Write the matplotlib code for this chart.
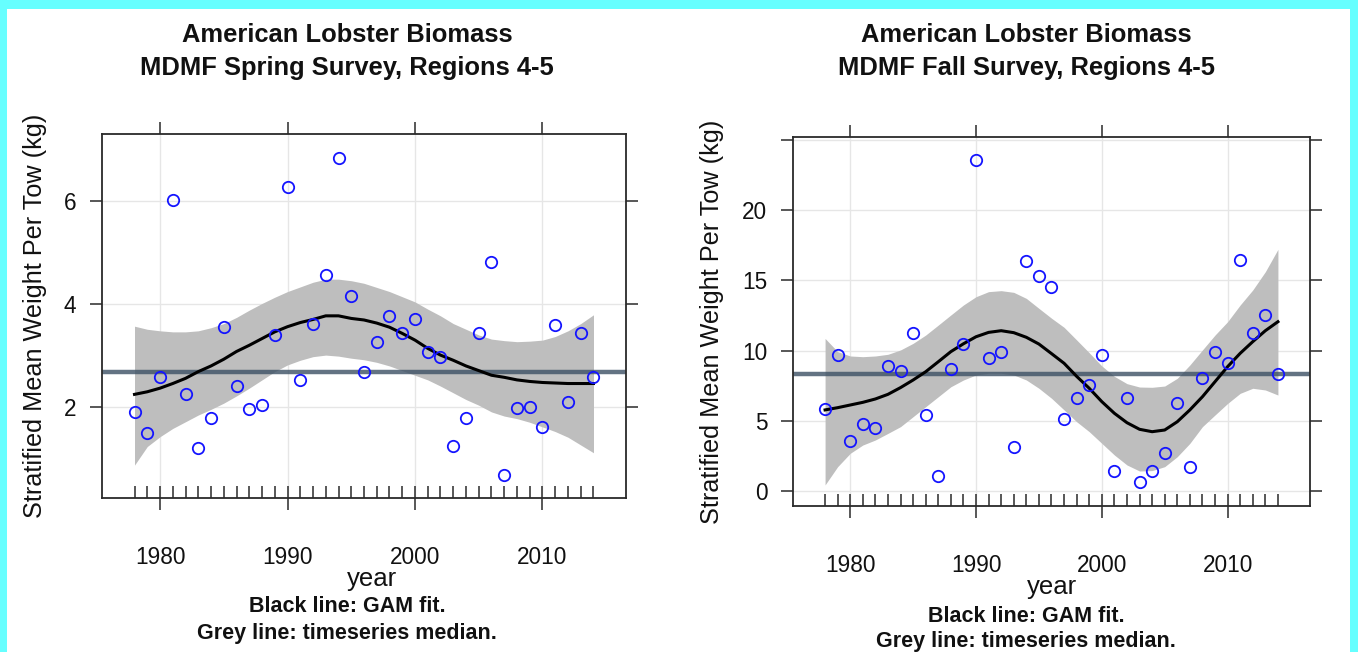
import numpy as np
import matplotlib
matplotlib.use("Agg")
import matplotlib.pyplot as plt
from matplotlib.patches import Rectangle

plt.rcParams['font.family'] = ['Liberation Sans', 'DejaVu Sans']

# ---- data -------------------------------------------------------------
years = np.arange(1978, 2015)

spring_biomass = [1.91, 1.50, 2.58, 6.01, 2.25, 1.22, 1.80, 3.55, 2.41, 1.97,
                  2.04, 3.40, 6.26, 2.53, 3.62, 4.56, 6.83, 4.16, 2.68, 3.26,
                  3.77, 3.44, 3.71, 3.07, 2.98, 1.26, 1.80, 3.44, 4.82, 0.68,
                  1.99, 2.01, 1.62, 3.59, 2.10, 3.44, 2.59]
spring_fit = [2.25, 2.30, 2.37, 2.46, 2.56, 2.69, 2.80, 2.93, 3.08, 3.20,
              3.33, 3.46, 3.56, 3.64, 3.70, 3.77, 3.77, 3.72, 3.69, 3.63,
              3.55, 3.43, 3.30, 3.14, 3.01, 2.91, 2.80, 2.71, 2.62, 2.58,
              2.53, 2.50, 2.48, 2.47, 2.46, 2.46, 2.46]
spring_upper = [3.57, 3.51, 3.48, 3.46, 3.46, 3.48, 3.54, 3.62, 3.74, 3.88,
                4.01, 4.13, 4.24, 4.33, 4.42, 4.48, 4.48, 4.45, 4.40, 4.32,
                4.24, 4.14, 4.04, 3.90, 3.77, 3.62, 3.51, 3.40, 3.32, 3.29,
                3.27, 3.28, 3.30, 3.37, 3.48, 3.62, 3.79]
spring_lower = [0.88, 1.24, 1.43, 1.59, 1.72, 1.85, 1.96, 2.08, 2.22, 2.37,
                2.53, 2.69, 2.82, 2.91, 2.98, 3.01, 2.99, 2.95, 2.92, 2.87,
                2.80, 2.71, 2.62, 2.53, 2.41, 2.28, 2.15, 2.04, 1.91, 1.83,
                1.78, 1.71, 1.62, 1.53, 1.42, 1.27, 1.12]

fall_biomass = [5.81, 9.66, 3.56, 4.79, 4.46, 8.87, 8.56, 11.27, 5.39, 1.07,
                8.66, 10.46, 23.56, 9.47, 9.92, 3.11, 16.37, 15.33, 14.54, 5.15,
                6.64, 7.54, 9.66, 1.42, 6.64, 0.66, 1.42, 2.68, 6.26, 1.73,
                8.07, 9.92, 9.09, 16.44, 11.27, 12.50, 8.30]
fall_fit = [5.77, 5.93, 6.12, 6.31, 6.55, 6.88, 7.36, 7.90, 8.49, 9.20,
            9.92, 10.48, 10.98, 11.29, 11.41, 11.27, 10.94, 10.46, 9.78, 9.09,
            8.16, 7.31, 6.36, 5.53, 4.86, 4.39, 4.22, 4.34, 4.93, 5.77,
            6.71, 7.78, 8.85, 9.80, 10.63, 11.41, 12.05]
fall_upper = [10.86, 9.92, 9.61, 9.56, 9.61, 9.73, 10.04, 10.51, 11.10, 11.81,
              12.53, 13.24, 13.83, 14.19, 14.26, 14.14, 13.71, 13.00, 12.30, 11.65,
              10.75, 9.84, 8.90, 8.16, 7.64, 7.40, 7.38, 7.47, 8.02, 8.97,
              10.04, 11.10, 12.05, 13.24, 14.31, 15.61, 17.20]
fall_lower = [0.43, 1.73, 2.68, 3.27, 3.63, 4.10, 4.58, 5.29, 6.00, 6.71,
              7.42, 7.90, 8.26, 8.38, 8.38, 8.26, 7.90, 7.31, 6.60, 5.77,
              4.93, 4.22, 3.39, 2.56, 1.85, 1.42, 1.45, 1.73, 2.44, 3.39,
              4.58, 5.41, 6.23, 6.95, 7.31, 7.19, 6.83]

x_ticks = [1980, 1990, 2000, 2010]
spring_yticks = [2, 4, 6]
spring_ytick_labels = ['2', '4', '6']
fall_yticks = [0, 5, 10, 15, 20, 25]
fall_ytick_labels = ['0', '5', '10', '15', '20', '']

title_line1 = "American Lobster Biomass"
spring_title2 = "MDMF Spring Survey, Regions 4-5"
fall_title2 = "MDMF Fall Survey, Regions 4-5"
ylabel = "Stratified Mean Weight Per Tow (kg)"
xlabel = "year"
note1 = "Black line: GAM fit."
note2 = "Grey line: timeseries median."

# ---- figure -----------------------------------------------------------
W, H = 1358, 652
fig = plt.figure(figsize=(W / 100, H / 100), dpi=100)
fig.patch.set_facecolor('white')


def fx(x):
    return x / W


def fy(y):
    return 1 - y / H


cyan = '#66ffff'
for rect in [(0, 0, 7, H), (0, 0, W, 9), (1350, 0, W - 1350, H)]:
    x0, y0, w, h = rect
    fig.add_artist(Rectangle((fx(x0), fy(y0 + h)), w / W, h / H,
                             transform=fig.transFigure, facecolor=cyan,
                             edgecolor='none', zorder=-10))

TEXT = '#111111'
FRAME = '#2a2a2a'


def draw_panel(box, values, fit, lower, upper, yticks, ytick_labels, ylim,
               title2, page_cx, xlab_cx, text_rows):
    left, top, right, bottom = box
    ax = fig.add_axes([fx(left), fy(bottom), (right - left) / W, (bottom - top) / H])
    ax.set_xlim(1975.45, 2016.55)
    ax.set_ylim(*ylim)

    ax.set_xticks(x_ticks)
    ax.set_xticklabels([str(t) for t in x_ticks])
    ax.set_yticks(yticks)
    ax.set_yticklabels(ytick_labels)
    ax.grid(True, color='#e6e6e6', linewidth=1.0, zorder=0)
    ax.set_axisbelow(True)

    ax.fill_between(years, lower, upper, color='#bebebe', linewidth=0, zorder=1)
    ax.axhline(np.median(values), color='#3c5064', alpha=0.8, linewidth=3.2, zorder=2)
    ax.plot(years, fit, color='black', linewidth=2.2, zorder=3)
    ax.plot(years, values, linestyle='none', marker='o', markersize=8.2,
            markerfacecolor='none', markeredgecolor='#1414ff',
            markeredgewidth=1.3, zorder=4)
    # rug of survey years along the bottom of the panel
    rug_h = 12 / (bottom - top)
    ax.vlines(years, 0, rug_h, transform=ax.get_xaxis_transform(),
              colors=FRAME, linewidth=1.1, zorder=5)

    for s in ax.spines.values():
        s.set_color(FRAME)
        s.set_linewidth(1.3)
    ax.tick_params(axis='both', which='major', direction='out', length=8.6,
                   width=1.1, color=FRAME, top=True, right=True,
                   labeltop=False, labelright=False, labelsize=16.3,
                   labelcolor=TEXT)
    ax.tick_params(axis='x', pad=26.3)
    ax.tick_params(axis='y', pad=9.9)

    panel_cy = (top + bottom) / 2
    t1_y, t2_y, lab_y, n1_y, n2_y, ylab_x = text_rows
    fig.text(fx(page_cx), fy(t1_y), title_line1, ha='center', va='center',
             fontsize=18.4, fontweight='bold', color=TEXT)
    fig.text(fx(page_cx), fy(t2_y), title2, ha='center', va='center',
             fontsize=18.4, fontweight='bold', color=TEXT)
    fig.text(fx(xlab_cx), fy(lab_y), xlabel, ha='center', va='center',
             fontsize=18.5, color=TEXT)
    fig.text(fx(page_cx), fy(n1_y), note1, ha='center', va='center',
             fontsize=15.5, fontweight='bold', color=TEXT)
    fig.text(fx(page_cx), fy(n2_y), note2, ha='center', va='center',
             fontsize=15.5, fontweight='bold', color=TEXT)
    fig.text(fx(ylab_x), fy(panel_cy), ylabel, ha='center', va='center',
             rotation=90, fontsize=18.2, color=TEXT)
    return ax


draw_panel((102, 134, 626, 498), spring_biomass, spring_fit, spring_lower,
           spring_upper, spring_yticks, spring_ytick_labels, (0.244, 7.29),
           spring_title2, 347, 372, (35, 68, 579, 607, 633, 35))
draw_panel((793, 137, 1310, 506), fall_biomass, fall_fit, fall_lower,
           fall_upper, fall_yticks, fall_ytick_labels, (-1.07, 25.2),
           fall_title2, 1026, 1052, (35, 68, 587, 617, 642, 712))

fig.savefig('out.png', dpi=100, facecolor=fig.get_facecolor())
